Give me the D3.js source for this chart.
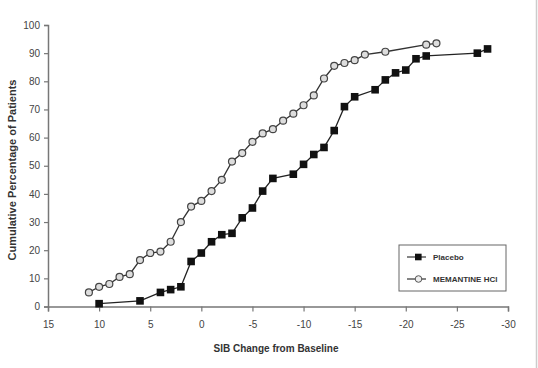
<!DOCTYPE html>
<html>
<head>
<meta charset="utf-8">
<script src="https://cdn.jsdelivr.net/npm/d3@7"></script>
<style>
  body { margin: 0; background: #fff; }
  text { font-family: "Liberation Sans Narrow", "Arial Narrow", "Liberation Sans", Arial, sans-serif; }
</style>
</head>
<body>
<div id="chart"></div>
<script>
'use strict';

// SIB change (x) and cumulative % (y)
var memantineX = [11, 10, 9, 8, 7, 6, 5, 4, 3, 2, 1, 0, -1, -2, -3, -4, -5, -6, -7, -8, -9, -10, -11, -12, -13, -14, -15, -16, -18, -22, -23];
var memantineY = [5, 7, 8, 10.5, 11.5, 16.5, 19, 19.5, 23, 30, 35.5, 37.5, 41, 45, 51.5, 54.5, 58.5, 61.5, 63, 66, 68.5, 71.5, 75, 81, 85.5, 86.5, 87.5, 89.5, 90.5, 93, 93.5];
var placeboX = [10, 6, 4, 3, 2, 1, 0, -1, -2, -3, -4, -5, -6, -7, -9, -10, -11, -12, -13, -14, -15, -17, -18, -19, -20, -21, -22, -27, -28];
var placeboY = [1, 2, 5, 6, 7, 16, 19, 23, 25.5, 26, 31.5, 35, 41, 45.5, 47, 50.5, 54, 56.5, 62.5, 71, 74.5, 77, 80.5, 83, 84, 88, 89, 90, 91.5];
var xTicks = [15, 10, 5, 0, -5, -10, -15, -20, -25, -30];
var yTicks = [0, 10, 20, 30, 40, 50, 60, 70, 80, 90, 100];

var width = 538, height = 368;
var svg = d3.select('#chart').append('svg')
  .attr('width', width)
  .attr('height', height);

var x = d3.scaleLinear().domain([15, -30]).range([48, 508]);
var y = d3.scaleLinear().domain([0, 100]).range([306.5, 25]);

// right edge border
svg.append('line')
  .attr('x1', 536.5).attr('x2', 536.5).attr('y1', 0).attr('y2', height)
  .attr('stroke', '#ccc').attr('stroke-width', 1.5);

var xAxis = svg.append('g')
  .attr('transform', 'translate(0,' + y(0) + ')')
  .call(d3.axisBottom(x).tickValues(xTicks).tickSize(5).tickPadding(9).tickFormat(d3.format('d')));
var yAxis = svg.append('g')
  .attr('transform', 'translate(' + x(15) + ',0)')
  .call(d3.axisLeft(y).tickValues(yTicks).tickSize(4).tickPadding(4));

[xAxis, yAxis].forEach(function(a) {
  a.select('.domain').attr('stroke', '#777').attr('stroke-width', 1.5);
  a.selectAll('.tick line').attr('stroke', '#777').attr('stroke-width', 1.2);
  a.selectAll('.tick text').attr('fill', '#444').style('font-size', '10px');
});
xAxis.selectAll('.tick text').text(function(d) { return d < 0 ? '-' + Math.abs(d) : d; });

svg.append('text')
  .attr('x', 276).attr('y', 352)
  .attr('text-anchor', 'middle')
  .attr('fill', '#333')
  .style('font-family', '"Liberation Sans", Arial, sans-serif')
  .style('font-size', '10px').style('font-weight', 'bold')
  .text('SIB Change from Baseline');

svg.append('text')
  .attr('transform', 'translate(16,170) rotate(-90)')
  .attr('text-anchor', 'middle')
  .attr('fill', '#333')
  .style('font-family', '"Liberation Sans", Arial, sans-serif')
  .style('font-size', '11px').style('font-weight', 'bold')
  .text('Cumulative Percentage of Patients');

var line = d3.line()
  .x(function(d) { return x(d[0]); })
  .y(function(d) { return y(d[1]); });

var memantine = d3.zip(memantineX, memantineY);
var placebo = d3.zip(placeboX, placeboY);

svg.append('path').datum(memantine)
  .attr('d', line).attr('fill', 'none').attr('stroke', '#333').attr('stroke-width', 1.3);
svg.append('path').datum(placebo)
  .attr('d', line).attr('fill', 'none').attr('stroke', '#222').attr('stroke-width', 1.3);

svg.append('g').selectAll('circle')
  .data(memantine)
  .enter()
  .append('circle')
    .attr('cx', function(d) { return x(d[0]); })
    .attr('cy', function(d) { return y(d[1]); })
    .attr('r', 3.5)
    .attr('fill', '#ddd')
    .attr('stroke', '#444')
    .attr('stroke-width', 1.2);

svg.append('g').selectAll('rect')
  .data(placebo)
  .enter()
  .append('rect')
    .attr('x', function(d) { return x(d[0]) - 3.8; })
    .attr('y', function(d) { return y(d[1]) - 3.8; })
    .attr('width', 7.6).attr('height', 7.6)
    .attr('fill', '#111');

// legend
var legend = svg.append('g').attr('transform', 'translate(399,245)');
legend.append('rect')
  .attr('width', 107).attr('height', 46)
  .attr('fill', '#fff').attr('stroke', '#666').attr('stroke-width', 1);

var items = [{label: 'Placebo', type: 'sq', y: 12}, {label: 'MEMANTINE HCl', type: 'ci', y: 34}];
var rows = legend.selectAll('g.item')
  .data(items)
  .enter()
  .append('g')
    .attr('class', 'item')
    .attr('transform', function(d) { return 'translate(0,' + d.y + ')'; });
rows.append('line')
  .attr('x1', 8).attr('x2', 27).attr('stroke', '#333').attr('stroke-width', 1.2);
rows.filter(function(d) { return d.type === 'sq'; })
  .append('rect')
    .attr('x', 16).attr('y', -3.3).attr('width', 6.6).attr('height', 6.6).attr('fill', '#111');
rows.filter(function(d) { return d.type === 'ci'; })
  .append('circle')
    .attr('cx', 19.5).attr('r', 3.3).attr('fill', '#eee').attr('stroke', '#555');
rows.append('text')
  .attr('x', 34).attr('dy', '0.35em')
  .attr('fill', '#333')
  .style('font-size', '8px').style('font-weight', 'bold')
  .text(function(d) { return d.label; });
</script>
</body>
</html>
